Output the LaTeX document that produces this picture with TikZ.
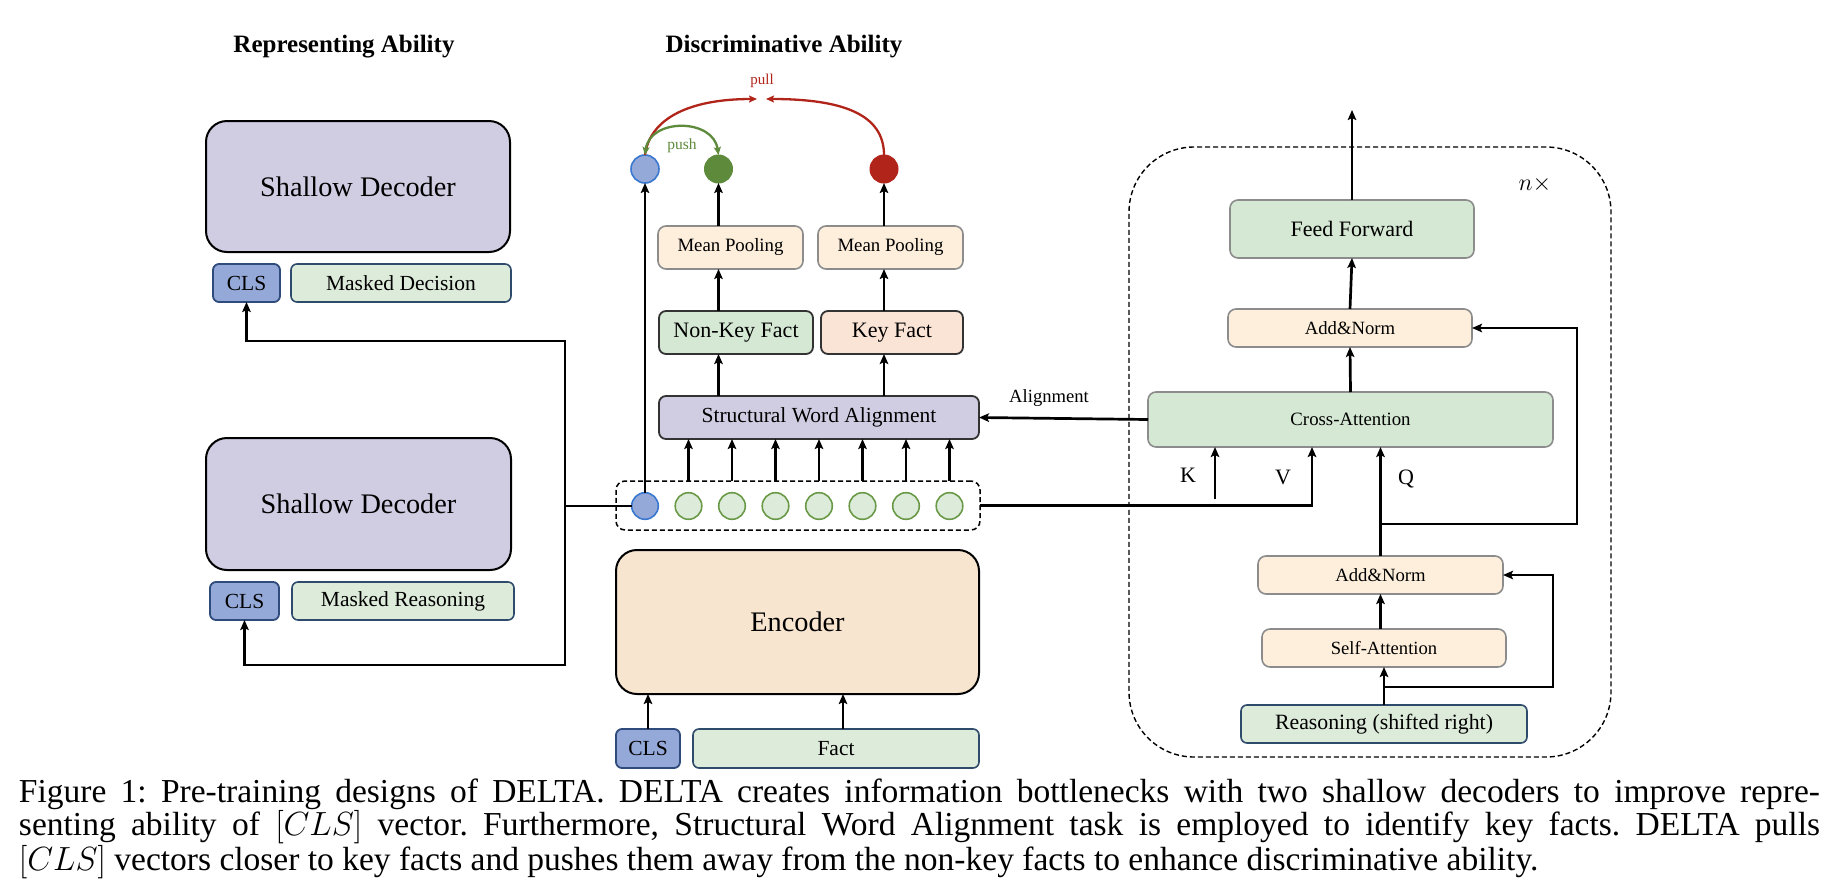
\documentclass[tikz,border=0pt]{standalone}
\usepackage{fix-cm}
\usepackage{fontspec}
\setmainfont{Liberation Serif}
\usetikzlibrary{arrows.meta,calc}
\definecolor{lav}{HTML}{D0CDE3}
\definecolor{clsfill}{HTML}{94A9D8}
\definecolor{clsdraw}{HTML}{2F4B7C}
\definecolor{tokfill}{HTML}{DDEBDA}
\definecolor{tokdraw}{HTML}{2F4B6C}
\definecolor{nkfill}{HTML}{D5E8D4}
\definecolor{kffill}{HTML}{FAE4D6}
\definecolor{mpfill}{HTML}{FDEFDB}
\definecolor{encfill}{HTML}{F7E5CF}
\definecolor{grayd}{HTML}{8C8C8C}
\definecolor{pushc}{HTML}{5E8A3C}
\definecolor{pullc}{HTML}{B1241A}
\definecolor{bluec}{HTML}{3A78D0}
\definecolor{tokgreen}{HTML}{6A9A48}
\newcommand\myfs[2]{\fontsize{#1pt}{#2pt}\selectfont}
\tikzset{
  every node/.style={inner sep=0pt, outer sep=0pt},
  ln/.style={line width=2.7pt},
  arr/.style={line width=2.7pt, -{Stealth[length=10pt,width=8.5pt,inset=2pt]}},
  bigbox/.style={draw=black, line width=2pt, rounded corners=21pt},
  darkbox/.style={draw=black!80, line width=1.8pt, rounded corners=7pt},
  graybox/.style={draw=grayd, line width=1.6pt, rounded corners=8pt},
  clsbox/.style={fill=clsfill, draw=clsdraw, line width=1.8pt, rounded corners=6pt},
  tokbox/.style={fill=tokfill, draw=tokdraw, line width=1.6pt, rounded corners=6pt},
  tokc/.style={circle, minimum size=26.6pt, fill=tokfill, draw=tokgreen, line width=1.6pt},
  clsc/.style={circle, minimum size=26.6pt, fill=clsfill, draw=bluec, line width=1.6pt},
  dashbox/.style={draw=black, line width=1.5pt, dash pattern=on 5pt off 3pt, rounded corners=9pt},
  pusharr/.style={draw=pushc, line width=2.3pt, {Stealth[length=8pt,width=7pt,inset=1.5pt]}-{Stealth[length=8pt,width=7pt,inset=1.5pt]}},
  pullarr/.style={draw=pullc, line width=2.3pt, -{Stealth[length=8pt,width=7pt,inset=1.5pt]}},
}
\begin{document}
\begin{tikzpicture}[x=1pt,y=-1pt]
\useasboundingbox (0,0) rectangle (1840,892);

% titles
\node (t_rep) at (344,47) {\myfs{25}{30}\bfseries Representing Ability};
\node (t_dis) at (784,47) {\myfs{25}{30}\bfseries Discriminative Ability};

% left column
\node[bigbox, fill=lav, minimum width=304pt, minimum height=131pt] (sd1) at (358,186.5) {\myfs{28.3}{34}Shallow Decoder};
\node[clsbox, minimum width=67pt, minimum height=38pt] (cls1) at (246.5,283) {\myfs{21.5}{26}CLS};
\node[tokbox, minimum width=220pt, minimum height=38pt] (md) at (401,283) {\myfs{21.5}{26}Masked Decision};
\node[bigbox, fill=lav, minimum width=305pt, minimum height=132pt] (sd2) at (358.5,504) {\myfs{28.3}{34}Shallow Decoder};
\node[clsbox, minimum width=69pt, minimum height=38pt] (cls2) at (244.5,601) {\myfs{21.5}{26}CLS};
\node[tokbox, minimum width=222pt, minimum height=38pt] (mr) at (403,601) {\myfs{21.5}{26}Masked Reasoning};

% middle column
\node[dashbox, minimum width=364pt, minimum height=49pt] (tok) at (798,505.5) {};
\node[clsc] (t1) at (645,506) {};
\foreach \i/\x in {2/688.5,3/732,4/775.5,5/819,6/862.5,7/906,8/949.5}
  \node[tokc] (t\i) at (\x,506) {};

\node[darkbox, fill=lav, minimum width=320pt, minimum height=43pt] (swa) at (819,417.5) {\myfs{21.5}{26}Structural Word Alignment};
\node[darkbox, fill=nkfill, minimum width=154pt, minimum height=43pt] (nk) at (736,332.5) {\myfs{22}{26}Non-Key Fact};
\node[darkbox, fill=kffill, minimum width=142pt, minimum height=43pt] (kf) at (892,332.5) {\myfs{22}{26}Key Fact};
\node[graybox, fill=mpfill, minimum width=145pt, minimum height=43pt] (mp1) at (730.5,247.5) {\myfs{18.8}{23}Mean Pooling};
\node[graybox, fill=mpfill, minimum width=145pt, minimum height=43pt] (mp2) at (890.5,247.5) {\myfs{18.8}{23}Mean Pooling};

\node[clsc, minimum size=28pt] (cb) at (645,169) {};
\node[circle, minimum size=28pt, fill=pushc, draw=pushc, line width=1pt] (cg) at (718.5,169) {};
\node[circle, minimum size=28pt, fill=pullc, draw=pullc, line width=1pt] (cr) at (884,169) {};

\node[bigbox, fill=encfill, minimum width=363pt, minimum height=144pt] (enc) at (797.5,622) {\myfs{28.3}{34}Encoder};
\node[clsbox, minimum width=64pt, minimum height=39pt] (cls3) at (648,748.5) {\myfs{21.5}{26}CLS};
\node[tokbox, minimum width=286pt, minimum height=39pt] (fact) at (836,748.5) {\myfs{21.5}{26}Fact};

% middle connectors
\foreach \i in {2,...,8}
  \draw[arr] (tok.north -| t\i) -- (swa.south -| t\i);
\draw[arr] (swa.north -| cg) -- (nk.south -| cg);
\draw[arr] (swa.north -| cr) -- (kf.south -| cr);
\draw[arr] (nk.north -| cg) -- (mp1.south -| cg);
\draw[arr] (kf.north -| cr) -- (mp2.south -| cr);
\draw[arr] (mp1.north -| cg) -- (cg.south);
\draw[arr] (mp2.north -| cr) -- (cr.south);
\draw[arr] (t1.north) -- (cb.south);
\draw[arr] (cls3.north) -- (cls3.north |- enc.south);
\draw[arr] ([xshift=7pt]fact.north) -- ([xshift=7pt]fact.north |- enc.south);

% push / pull
\coordinate (pl) at (757,99);
\coordinate (pr) at (766,99);
\draw[pullarr] (cb.north) .. controls (650,118) and (690,99) .. (pl);
\draw[pullarr] (cr.north) .. controls (884,114) and (842,99) .. (pr);
\draw[pusharr] (cb.north) .. controls (650,118) and (713,118) .. (cg.north);
\node[text=pullc] (pulllab) at (762,81) {\myfs{15}{18}pull};
\node[text=pushc] (pushlab) at (682,146) {\myfs{15.5}{18}push};

% left connectors
\coordinate (jt) at (565,341);
\coordinate (jb) at (565,665);
\coordinate (jm) at (t1.west -| jt);
\draw[ln] (t1.west) -- (jm);
\draw[arr] (jm) -- (jt) -| (cls1.south);
\draw[arr] (jm) -- (jb) -| (cls2.south);

% right column
\node[draw=black, line width=1.4pt, dash pattern=on 5pt off 3pt, rounded corners=65pt, minimum width=482pt, minimum height=610pt] (blk) at (1370,452) {};
\node[graybox, fill=nkfill, minimum width=244pt, minimum height=58pt] (ff) at (1352,229) {\myfs{22}{26}Feed Forward};
\node[graybox, fill=mpfill, minimum width=244pt, minimum height=38pt] (an1) at (1350,328) {\myfs{18.7}{23}Add\&Norm};
\node[graybox, fill=nkfill, minimum width=405pt, minimum height=55pt] (ca) at (1350.5,419.5) {\myfs{18.8}{23}Cross-Attention};
\node[graybox, fill=mpfill, minimum width=245pt, minimum height=38pt] (an2) at (1380.5,575) {\myfs{18.7}{23}Add\&Norm};
\node[graybox, fill=mpfill, minimum width=244pt, minimum height=38pt] (sa) at (1384,648) {\myfs{18.6}{23}Self-Attention};
\node[tokbox, minimum width=286pt, minimum height=38pt] (rs) at (1384,724) {\myfs{21.8}{26}Reasoning (shifted right)};
\node (nx) at (1535,184) {\myfs{24}{28}$n\times$};

\coordinate (outp) at (1352,110);
\draw[arr] (ff.north) -- (outp);
\draw[arr] (an1.north) -- (ff.south);
\draw[arr] (ca.north) -- (an1.south);
\draw[arr] (an2.north) -- (an2.north |- ca.south);
\coordinate (qj) at (1380.5,524);
\coordinate (r1) at (1577,524);
\draw[arr] (qj) -- (r1) |- (an1.east);
\draw[arr] (sa.north -| an2.south) -- (an2.south);
\draw[arr] (rs.north) -- (sa.south);
\coordinate (rj) at (1384,687);
\coordinate (r2) at (1553,687);
\draw[arr] (rj) -- (r2) |- (an2.east);
\coordinate (kb) at (1215,499);
\draw[arr] (kb) -- (kb |- ca.south);
\coordinate (vb) at (1312,505.5);
\draw[arr] (tok.east) -- (vb) -- (vb |- ca.south);
\node (klab) at (1188,475) {\myfs{22}{26}K};
\node (vlab) at (1283,477) {\myfs{22}{26}V};
\node (qlab) at (1406,479) {\myfs{22}{26}Q};
\draw[arr] (ca.west) -- (swa.east);
\node (alab) at (1049,398) {\myfs{18.6}{22}Alignment};

% caption
\node[anchor=north west, text width=1801pt, align=justify] (cap) at (19,779) {\myfs{33.5}{39}\frenchspacing Figure 1: Pre-training designs of DELTA. DELTA creates information bottlenecks with two shallow decoders to improve repre-\linebreak senting ability of $[CLS]$ vector. Furthermore, Structural Word Alignment task is employed to identify key facts. DELTA pulls\linebreak $[CLS]$ vectors closer to key facts and pushes them away from the non-key facts to enhance discriminative ability.};
\end{tikzpicture}
\end{document}
